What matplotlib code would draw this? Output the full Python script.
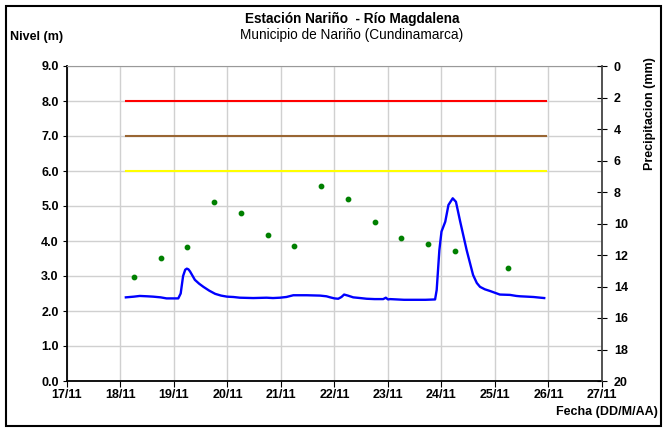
import numpy as np
import matplotlib.pyplot as plt
from matplotlib.patches import Rectangle

plt.rcParams['font.family'] = ['Liberation Sans', 'DejaVu Sans']

# Nivel del rio (dia del mes, fraccional) y nivel en metros
fecha_nivel = [18.10, 18.25, 18.36, 18.50, 18.61, 18.75, 18.86, 19.00, 19.08, 19.125,
               19.17, 19.21, 19.24, 19.27, 19.30, 19.39, 19.47, 19.55, 19.66, 19.77,
               19.88, 19.99, 20.11, 20.23, 20.48, 20.73, 20.85, 20.98, 21.10, 21.23,
               21.48, 21.73, 21.85, 21.92, 22.00, 22.07, 22.13, 22.18, 22.25, 22.35,
               22.48, 22.60, 22.75, 22.91, 22.96, 23.00, 23.04, 23.30, 23.54, 23.70,
               23.88, 23.91, 23.96, 24.00, 24.07, 24.13, 24.21, 24.27, 24.35, 24.47,
               24.59, 24.66, 24.72, 24.81, 24.91, 25.00, 25.09, 25.28, 25.40, 25.47,
               25.60, 25.72, 25.85, 25.92]
nivel = [2.39, 2.41, 2.43, 2.42, 2.41, 2.39, 2.36, 2.36, 2.36, 2.50,
         3.00, 3.18, 3.21, 3.19, 3.13, 2.89, 2.78, 2.69, 2.58, 2.49,
         2.44, 2.41, 2.40, 2.38, 2.37, 2.38, 2.37, 2.38, 2.40, 2.45,
         2.45, 2.44, 2.42, 2.39, 2.36, 2.35, 2.40, 2.47, 2.44, 2.39,
         2.37, 2.35, 2.34, 2.34, 2.38, 2.33, 2.34, 2.32, 2.32, 2.32,
         2.33, 2.60, 3.74, 4.27, 4.55, 5.03, 5.22, 5.12, 4.55, 3.74,
         3.03, 2.80, 2.69, 2.62, 2.57, 2.52, 2.47, 2.46, 2.43, 2.42,
         2.41, 2.40, 2.38, 2.37]

# Precipitacion (mm)
fecha_precip = [18.25, 18.75, 19.25, 19.75, 20.25, 20.75, 21.25, 21.75, 22.25, 22.75,
                23.25, 23.75, 24.25, 25.25]
precip = [13.4, 12.2, 11.5, 8.65, 9.35, 10.7, 11.45, 7.6, 8.45, 9.9,
          10.9, 11.3, 11.75, 12.85]

# Niveles de alerta
alerta_inicio, alerta_fin = 18.10, 25.95
alerta_roja = 8.0
alerta_naranja = 7.0
alerta_amarilla = 6.0

dias = list(range(17, 28))
etiquetas_dias = ['%d/11' % d for d in dias]


def main():
    fig = plt.figure(figsize=(6.63, 4.28), dpi=100)
    ax = fig.add_axes([67 / 663, 1 - 381 / 428, (602 - 67) / 663, (381 - 66) / 428])

    ax.plot([alerta_inicio, alerta_fin], [alerta_roja] * 2, color='#ff0000', lw=1.5)
    ax.plot([alerta_inicio, alerta_fin], [alerta_naranja] * 2, color='#996633', lw=1.5)
    ax.plot([alerta_inicio, alerta_fin], [alerta_amarilla] * 2, color='#ffff00', lw=1.5)
    ax.plot(fecha_nivel, nivel, color='#0000ff', lw=1.7)

    ax.set_xlim(17, 27)
    ax.set_ylim(0, 9)
    ax.set_xticks(dias)
    ax.set_xticklabels(etiquetas_dias)
    ax.set_yticks(np.arange(0, 9.5, 1.0))
    ax.set_yticklabels(['%.1f' % v for v in np.arange(0, 9.5, 1.0)])
    ax.grid(True, color='#d0d0d0', lw=1.0)
    ax.set_axisbelow(True)
    for lab in ax.get_xticklabels() + ax.get_yticklabels():
        lab.set_fontweight('bold')
        lab.set_fontsize(9)
    ax.tick_params(axis='x', direction='out', length=4, width=0.8, pad=2)
    ax.tick_params(axis='y', direction='out', length=3, width=0.8, pad=3)
    ax.spines['left'].set_color('black')
    ax.spines['left'].set_linewidth(1.3)
    ax.spines['bottom'].set_color('black')
    ax.spines['bottom'].set_linewidth(1.3)
    ax.spines['top'].set_color('#999999')
    ax.spines['right'].set_visible(False)

    ax2 = ax.twinx()
    ax2.scatter(fecha_precip, precip, color='#008000', s=10, zorder=3)
    ax2.set_ylim(20, 0)
    ax2.set_yticks(range(0, 21, 2))
    for lab in ax2.get_yticklabels():
        lab.set_fontweight('bold')
        lab.set_fontsize(9)
    ax2.tick_params(axis='y', direction='inout', length=7, width=0.8, pad=5)
    ax2.spines['right'].set_color('#444444')
    ax2.spines['right'].set_linewidth(1.3)
    for s in ['left', 'top', 'bottom']:
        ax2.spines[s].set_visible(False)

    fig.text(650 / 663, 1 - 57 / 428, 'Precipitacion (mm)', rotation=90, ha='center', va='top',
             fontsize=9, fontweight='bold')
    fig.text(352 / 663, 1 - 19 / 428, 'Estación Nariño  - Río Magdalena', ha='center', va='center',
             fontsize=9.8, fontweight='bold')
    fig.text(352 / 663, 1 - 35 / 428, 'Municipio de Nariño (Cundinamarca)', ha='center', va='center',
             fontsize=9.8)
    fig.text(10 / 663, 1 - 37 / 428, 'Nivel (m)', ha='left', va='center', fontsize=9, fontweight='bold')
    fig.text(658 / 663, 1 - 412 / 428, 'Fecha (DD/M/AA)', ha='right', va='center', fontsize=9,
             fontweight='bold')

    fig.patches.append(Rectangle((6 / 663, 2 / 428), 655 / 663, 420 / 428, transform=fig.transFigure,
                                 fill=False, edgecolor='black', lw=1.5))

    fig.savefig('out.png', dpi=100)


if __name__ == '__main__':
    main()
